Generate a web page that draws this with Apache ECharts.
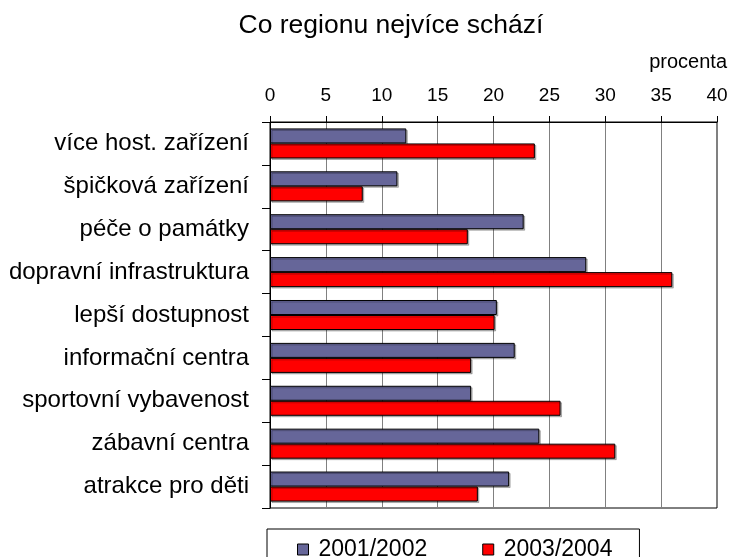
<!DOCTYPE html>
<html>
<head>
<meta charset="utf-8">
<script src="https://cdn.jsdelivr.net/npm/echarts@6/dist/echarts.min.js"></script>
<style>
  html, body { margin: 0; padding: 0; background: #fff; }
  #chart { width: 731px; height: 557px; }
</style>
</head>
<body>
<div id="chart"></div>
<script>
// top to bottom, as in the picture
const categories = [
  'více host. zařízení',
  'špičková zařízení',
  'péče o památky',
  'dopravní infrastruktura',
  'lepší dostupnost',
  'informační centra',
  'sportovní vybavenost',
  'zábavní centra',
  'atrakce pro děti',
]
const seriesNames = ['2001/2002', '2003/2004']
const values2001 = [12.2, 11.4, 22.7, 28.3, 20.3, 21.9, 18.0, 24.1, 21.4]
const values2003 = [23.7, 8.3, 17.7, 36.0, 20.1, 18.0, 26.0, 30.9, 18.6]
const colors = ['#666699', '#ff0000']

const FONT = '"Liberation Sans", Arial, sans-serif'

const barStyle = (color) => ({
  color: color,
  borderColor: '#000',
  borderWidth: 1,
  shadowColor: 'rgba(0,0,0,0.25)',
  shadowOffsetX: 1.5,
  shadowOffsetY: 1.5,
})

const option = {
  animation: false,
  backgroundColor: '#fff',
  textStyle: { fontFamily: FONT, color: '#000' },
  graphic: [
    {
      type: 'text',
      x: 391,
      y: 26,
      style: { text: 'Co regionu nejvíce schází', font: '26.5px ' + FONT, fill: '#000', textAlign: 'center', textVerticalAlign: 'middle' },
    },
    {
      type: 'text',
      x: 727,
      y: 62,
      style: { text: 'procenta', font: '20px ' + FONT, fill: '#000', textAlign: 'right', textVerticalAlign: 'middle' },
    },
  ],
  grid: { left: 270, right: 14, top: 122, bottom: 49, show: true, borderColor: '#000', borderWidth: 1 },
  legend: {
    data: seriesNames,
    left: 267,
    top: 529,
    orient: 'horizontal',
    icon: 'rect',
    itemWidth: 11,
    itemHeight: 11,
    itemGap: 55,
    padding: [9, 27, 8, 30],
    borderColor: '#000',
    borderWidth: 1,
    itemStyle: { borderColor: '#000', borderWidth: 1 },
    textStyle: { fontFamily: FONT, fontSize: 23, color: '#000', padding: [0, 0, 0, 5] },
  },
  xAxis: {
    type: 'value',
    position: 'top',
    min: 0,
    max: 40,
    interval: 5,
    axisLine: { show: true, lineStyle: { color: '#000', width: 1 } },
    axisTick: { show: true, length: 6, lineStyle: { color: '#000' } },
    axisLabel: { fontFamily: FONT, fontSize: 19, color: '#000', margin: 17 },
    splitLine: { show: true, lineStyle: { color: '#808080', width: 1 } },
  },
  yAxis: {
    type: 'category',
    data: categories,
    inverse: true,
    axisLine: { show: true, lineStyle: { color: '#000', width: 1 } },
    axisTick: { show: true, length: 8, lineStyle: { color: '#000' } },
    axisLabel: { fontFamily: FONT, fontSize: 24, color: '#000', margin: 21 },
    splitLine: { show: false },
  },
  series: [
    {
      name: seriesNames[0],
      type: 'bar',
      data: values2001,
      barGap: '0%',
      barCategoryGap: '30%',
      itemStyle: barStyle(colors[0]),
    },
    {
      name: seriesNames[1],
      type: 'bar',
      data: values2003,
      barGap: '0%',
      barCategoryGap: '30%',
      itemStyle: barStyle(colors[1]),
    },
  ],
}

const chart = echarts.init(document.getElementById('chart'), null, { renderer: 'canvas' })
chart.setOption(option)
</script>
</body>
</html>
